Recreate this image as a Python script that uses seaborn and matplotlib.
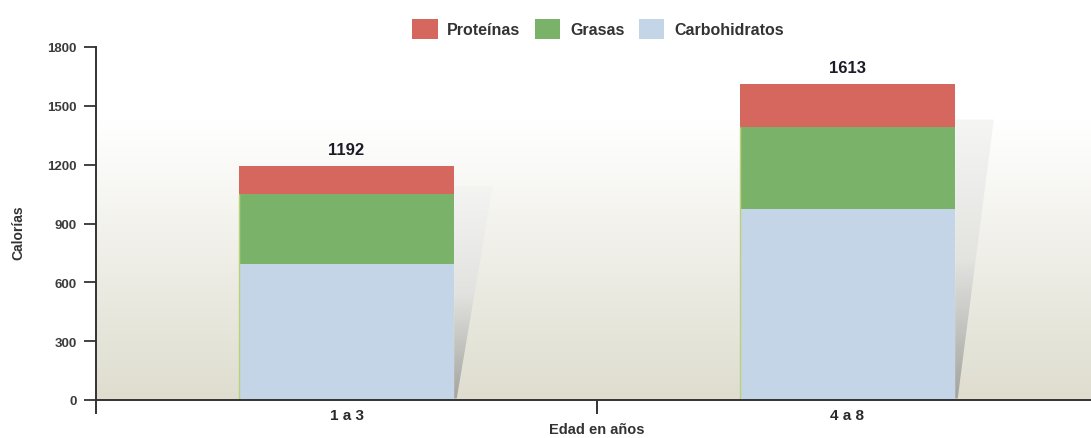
import numpy as np
import pandas as pd
import matplotlib
matplotlib.use("Agg")
import matplotlib.pyplot as plt
from matplotlib.patches import Patch, Polygon
from matplotlib.colors import LinearSegmentedColormap
import seaborn as sns

# Calorie breakdown by age group
edades = ["1 a 3", "4 a 8"]
carbohidratos = [694, 975]
grasas = [356, 415]
proteinas = [142, 223]
totales = [1192, 1613]
yticks = [0, 300, 600, 900, 1200, 1500, 1800]

col_prot = "#d6675f"
col_gras = "#7ab26a"
col_carb = "#c5d5e8"
txt = "#333333"

sns.set_theme(style="white")
plt.rcParams["font.family"] = ["Liberation Sans Narrow", "Liberation Sans", "DejaVu Sans"]
plt.rcParams["font.weight"] = "bold"

df = pd.DataFrame({
    "edad": edades,
    "carb": carbohidratos,
    "gras": grasas,
    "prot": proteinas,
})
df["c1"] = df["carb"]
df["c2"] = df["carb"] + df["gras"]
df["c3"] = df["c2"] + df["prot"]

fig = plt.figure(figsize=(10.91, 4.39), dpi=100)
ax = fig.add_axes([96 / 1091, 38 / 439, 1002 / 1091, 353 / 439])

bw = 0.43
# stacked bars drawn as overlapping cumulative totals
sns.barplot(data=df, x="edad", y="c3", color=col_prot, width=bw, linewidth=0,
            saturation=1, ax=ax, zorder=3)
sns.barplot(data=df, x="edad", y="c2", color=col_gras, width=bw, linewidth=0,
            saturation=1, ax=ax, zorder=4)
sns.barplot(data=df, x="edad", y="c1", color=col_carb, width=bw, linewidth=0,
            saturation=1, ax=ax, zorder=5)

ax.set_xlim(-0.5, 1.5)
ax.set_ylim(0, 1800)

# thin yellow-green rim on the left side of the lower segments
for i in range(len(edades)):
    xl = i - bw / 2
    ax.plot([xl, xl], [0, df["c2"][i]], color="#b9d27a", lw=1.0, zorder=5.5,
            solid_capstyle="butt")

# soft background gradient: white on top, warm grey at the base
yy = np.linspace(1800, 0, 400)
t = np.clip((1420 - yy) / 1420, 0, 1)
top = np.array([1.0, 1.0, 1.0])
bot = np.array([222, 221, 207]) / 255
rgb = top[None, :] * (1 - t[:, None]) + bot[None, :] * t[:, None]
img = np.repeat(rgb[:, None, :], 2, axis=1)
ax.imshow(img, extent=[-0.5, 1.5, 0, 1800], aspect="auto", zorder=0,
          interpolation="bilinear")

# drop shadows to the right of each bar
shade = LinearSegmentedColormap.from_list("shade", ["#f4f4f2", "#e2e2e0", "#9c9c9a"])
grad = np.linspace(0, 1, 256)[:, None] * np.ones((1, 2))
for i in range(len(edades)):
    xr = i + bw / 2
    ytop = df["c2"][i] + 40
    poly = Polygon([(xr, ytop), (xr + 0.077, ytop), (xr + 0.005, 8), (xr, 8)],
                   closed=True, facecolor="none", edgecolor="none")
    ax.add_patch(poly)
    im = ax.imshow(grad, extent=[xr, xr + 0.08, 0, ytop], aspect="auto",
                   cmap=shade, origin="upper", zorder=2, alpha=0.9)
    im.set_clip_path(poly)

# total labels
for i, tot in enumerate(totales):
    ax.text(i, df["c3"][i] + 45, f"{tot}", ha="center", va="bottom",
            fontsize=12, fontweight="bold", color="#1c1c28", zorder=6)

# axes styling
for s in ["top", "right"]:
    ax.spines[s].set_visible(False)
for s in ["left", "bottom"]:
    ax.spines[s].set_color("#333333")
    ax.spines[s].set_linewidth(1.4)
    ax.spines[s].set_zorder(7)

ax.set_yticks(yticks)
ax.set_yticklabels([str(v) for v in yticks], fontsize=9.5, fontweight="bold", color="#3c3c3c")
ax.tick_params(axis="y", direction="out", length=9, width=1.3, color="#333333",
               pad=5, left=True)

ax.set_xticks([-0.5, 0.5, 1.5])
ax.set_xticklabels(["", "", ""])
ax.set_xticks([0, 1], minor=True)
ax.set_xticklabels(edades, minor=True, fontsize=11, fontweight="bold", color="#2a2a2a")
ax.tick_params(axis="x", which="major", direction="out", length=10, width=1.4,
               color="#333333", bottom=True)
ax.tick_params(axis="x", which="minor", length=0, pad=6, bottom=True)

ax.set_ylabel("Calorías", fontsize=10, fontweight="bold", color=txt)
ax.yaxis.set_label_coords(-0.070, 0.476)
ax.set_xlabel("Edad en años", fontsize=10.5, fontweight="bold", color=txt)
ax.xaxis.set_label_coords(0.5, -0.102)
ax.xaxis.label.set_va("bottom")

handles = [Patch(facecolor=col_prot, edgecolor="none", label="Proteínas"),
           Patch(facecolor=col_gras, edgecolor="none", label="Grasas"),
           Patch(facecolor=col_carb, edgecolor="none", label="Carbohidratos")]
leg = fig.legend(handles=handles, loc="center", bbox_to_anchor=(0.548, 0.932),
                 ncol=3, frameon=False, fontsize=11.5, handlelength=1.6,
                 handleheight=1.6, handletextpad=0.6, columnspacing=0.9)
for t_ in leg.get_texts():
    t_.set_color(txt)
    t_.set_fontweight("bold")

fig.savefig("out.png", dpi=100)
